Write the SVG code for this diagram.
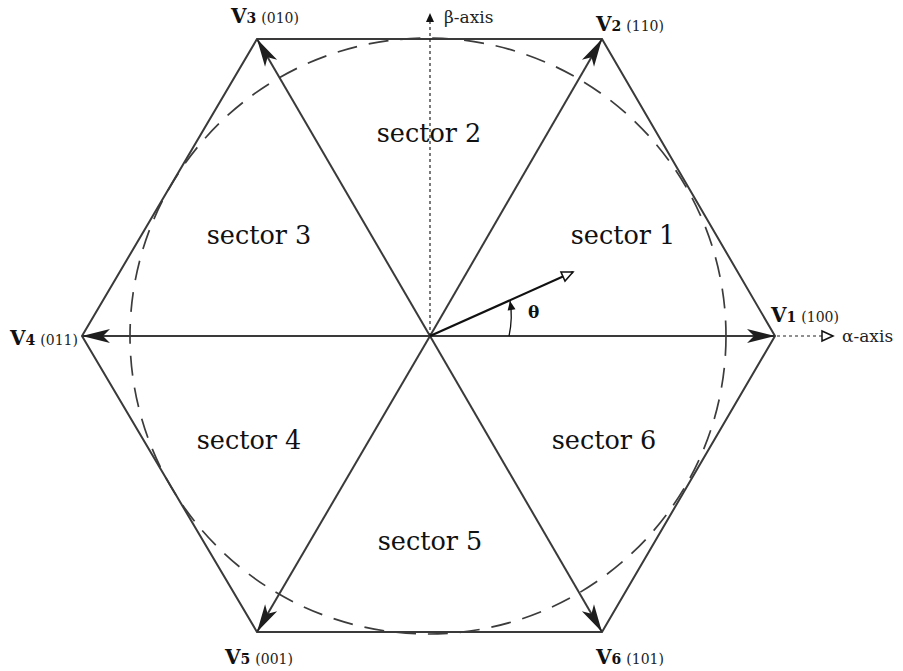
<svg xmlns="http://www.w3.org/2000/svg" width="903" height="671" viewBox="0 0 903 671">
<style>
.hex{fill:none;stroke:#3a3a3a;stroke-width:2}
.spoke{stroke:#3a3a3a;stroke-width:2;marker-end:url(#ah)}
.circ{fill:none;stroke:#3c3c3c;stroke-width:1.7;stroke-dasharray:20 12}
.axis{stroke:#222;stroke-width:1.2;stroke-dasharray:3 3}
.sec{font-family:"DejaVu Serif","Liberation Serif",serif;font-size:25.5px;fill:#111;text-anchor:middle}
.vl{font-family:"DejaVu Serif","Liberation Serif",serif;font-weight:bold;fill:#111}
.code{font-family:"DejaVu Serif","Liberation Serif",serif;font-size:14px;fill:#222}
.ax{font-family:"DejaVu Serif","Liberation Serif",serif;font-size:17px;fill:#222}
</style>
<defs>
<marker id="ah" markerUnits="userSpaceOnUse" markerWidth="32" markerHeight="18" viewBox="-29 -9 31 18" refX="0" refY="0" orient="auto">
<path d="M0,0 L-28,-7 L-21,0 L-28,7 Z" fill="#1e1e1e"/>
</marker>
<marker id="open" markerUnits="userSpaceOnUse" markerWidth="16" markerHeight="14" viewBox="-13 -7 15 14" refX="0" refY="0" orient="auto">
<path d="M0,0 L-11,-5 L-11,5 Z" fill="#fff" stroke="#111" stroke-width="1.5"/>
</marker>
<marker id="small" markerUnits="userSpaceOnUse" markerWidth="12" markerHeight="12" viewBox="-10 -6 12 12" refX="0" refY="0" orient="auto">
<path d="M0,0 L-9,-4 L-9,4 Z" fill="#111"/>
</marker>
</defs>
<g id="circle">
<circle class="circ" cx="428" cy="336" r="298"/>
</g>
<g id="hexagon">
<polygon class="hex" points="775,336 602,39 257,39 82,336 257,632 602,632"/>
</g>
<g id="connectors">
<line class="spoke" x1="430" y1="336" x2="775" y2="336"/>
<line class="spoke" x1="430" y1="336" x2="602" y2="39"/>
<line class="spoke" x1="430" y1="336" x2="257" y2="39"/>
<line class="spoke" x1="430" y1="336" x2="82" y2="336"/>
<line class="spoke" x1="430" y1="336" x2="257" y2="632"/>
<line class="spoke" x1="430" y1="336" x2="602" y2="632"/>
<line class="axis" x1="430" y1="336" x2="430" y2="13" marker-end="url(#small)"/>
<line class="axis" x1="777" y1="336" x2="833" y2="336" marker-end="url(#open)"/>
<line x1="430" y1="336" x2="573" y2="272" stroke="#111" stroke-width="2.2" marker-end="url(#open)"/>
<path d="M509,336 Q513,318 510,301" fill="none" stroke="#111" stroke-width="1.3" marker-end="url(#small)"/>
</g>
<g id="labels">
<text class="ax" x="444" y="23">β-axis</text>
<text class="ax" x="842" y="342">α-axis</text>
<text x="528" y="318" font-family="DejaVu Serif,Liberation Serif,serif" font-weight="bold" font-size="17" fill="#111">θ</text>
</g>
<g id="v1"><text x="771" y="322"><tspan class="vl" font-size="20">V</tspan><tspan class="vl" font-size="14">1</tspan><tspan class="code" dx="5">(100)</tspan></text></g>
<g id="v2"><text x="596" y="31"><tspan class="vl" font-size="20">V</tspan><tspan class="vl" font-size="14">2</tspan><tspan class="code" dx="5">(110)</tspan></text></g>
<g id="v3"><text x="231" y="23"><tspan class="vl" font-size="20">V</tspan><tspan class="vl" font-size="14">3</tspan><tspan class="code" dx="5">(010)</tspan></text></g>
<g id="v4"><text x="10" y="345"><tspan class="vl" font-size="20">V</tspan><tspan class="vl" font-size="14">4</tspan><tspan class="code" dx="5">(011)</tspan></text></g>
<g id="v5"><text x="225" y="664"><tspan class="vl" font-size="20">V</tspan><tspan class="vl" font-size="14">5</tspan><tspan class="code" dx="5">(001)</tspan></text></g>
<g id="v6"><text x="596" y="664"><tspan class="vl" font-size="20">V</tspan><tspan class="vl" font-size="14">6</tspan><tspan class="code" dx="5">(101)</tspan></text></g>
<g id="sector1"><text class="sec" x="623" y="244">sector 1</text></g>
<g id="sector2"><text class="sec" x="429" y="142">sector 2</text></g>
<g id="sector3"><text class="sec" x="259" y="244">sector 3</text></g>
<g id="sector4"><text class="sec" x="249" y="449">sector 4</text></g>
<g id="sector5"><text class="sec" x="430" y="550">sector 5</text></g>
<g id="sector6"><text class="sec" x="604" y="449">sector 6</text></g>
</svg>
